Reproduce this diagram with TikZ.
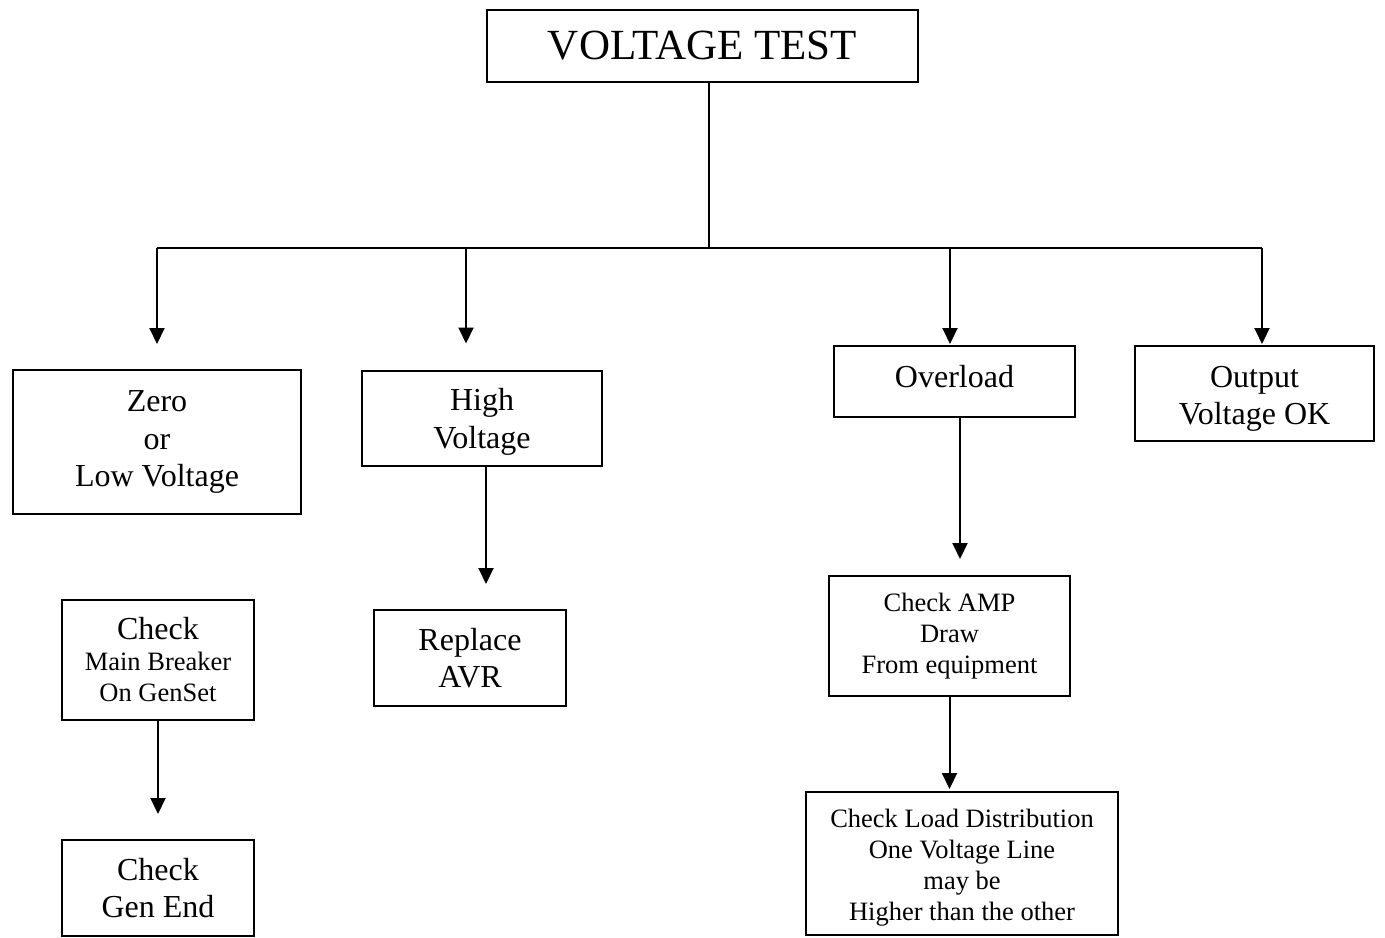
\documentclass[tikz,border=0pt]{standalone}
\usepackage{fontspec}
\setmainfont{Liberation Serif}
\usetikzlibrary{arrows.meta,positioning}

\begin{document}
\begin{tikzpicture}[x=0.5pt,y=-0.5pt,>={Triangle[length=8pt,width=7.5pt]},
  line width=1pt,
  box/.style={draw,line width=1pt,align=center,inner sep=0pt,font=\fontsize{16}{18.75}\selectfont},
  smallbox/.style={box,font=\fontsize{13.25}{15.5}\selectfont}]
\useasboundingbox (0,0) rectangle (1385,937);
% top box
\node[box,minimum width=215.5pt,minimum height=36pt,font=\fontsize{21.5}{24}\selectfont] (test) at (702.5,46) {VOLTAGE TEST};
% first row
\node[box,minimum width=144pt,minimum height=72pt] (zero) at (157,442) {Zero\\or\\Low Voltage};
\node[box,minimum width=120pt,minimum height=47.5pt] (high) at (482,418) {\rule{0pt}{14.9pt}High\\Voltage};
\node[box,minimum width=120.5pt,minimum height=35.5pt] (over) at (954.5,381.5) {Overload\rule[-5pt]{0pt}{5pt}};
\node[box,minimum width=119.5pt,minimum height=47.5pt] (ok) at (1254.5,393.5) {\rule{0pt}{16pt}Output\\Voltage OK};
% lower boxes
\node[smallbox,minimum width=96pt,minimum height=60pt] (breaker) at (158,660) {{\fontsize{16}{18.75}\selectfont Check}\\Main Breaker\\On GenSet};
\node[box,minimum width=96pt,minimum height=48pt] (genend) at (158,888) {Check\\Gen End};
\node[box,minimum width=96pt,minimum height=48pt] (avr) at (470,658) {Replace\\AVR};
\node[smallbox,minimum width=120.5pt,minimum height=60pt] (amp) at (949.5,636) {Check AMP\\Draw\\From equipment};
\node[smallbox,minimum width=156pt,minimum height=71.5pt] (load) at (962,863.5) {\rule{0pt}{13pt}Check Load Distribution\\One Voltage Line\\may be\\Higher than the other};
% branch points
\coordinate (hub) at (709,248);
\coordinate (b1) at (157,248);
\coordinate (b2) at (466,248);
\coordinate (b3) at (950,248);
\coordinate (b4) at (1262,248);
\draw (hub |- test.south) -- (hub);
\draw (b1) -- (b4);
\draw[->,shorten >=12.5pt] (b1) -- (b1 |- zero.north);
\draw[->,shorten >=13pt] (b2) -- (b2 |- high.north);
\draw[->,shorten >=0.5pt] (b3) -- (b3 |- over.north);
\draw[->,shorten >=0.5pt] (b4) -- (b4 |- ok.north);
% lower arrows
\draw[->,shorten >=12.5pt] (breaker.south) -- (genend.north);
\draw[->,shorten >=12.5pt] ([xshift=2pt]high.south) -- ([xshift=2pt]high.south |- avr.north);
\draw[->,shorten >=8pt] ([xshift=2.75pt]over.south) -- ([xshift=2.75pt]over.south |- amp.north);
\draw[->,shorten >=1pt] (amp.south) -- (amp.south |- load.north);
\end{tikzpicture}
\end{document}
